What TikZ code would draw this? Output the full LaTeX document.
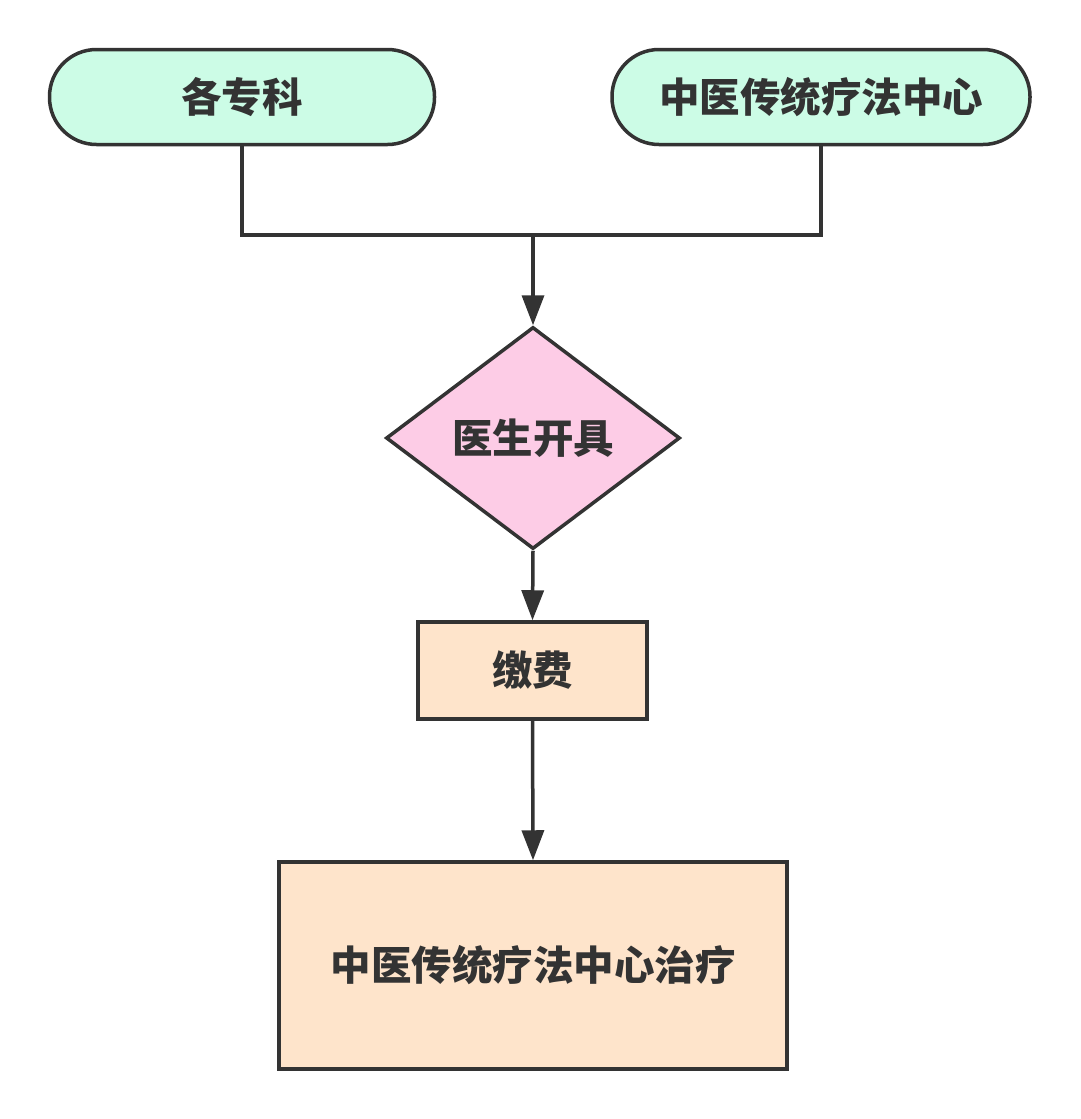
\documentclass[tikz,border=0pt]{standalone}
\usepackage{fontspec}
\newfontfamily\cjk{Noto Sans CJK SC}
\usetikzlibrary{arrows.meta,positioning,shapes.geometric}
\definecolor{linegray}{HTML}{333333}
\definecolor{startgreen}{HTML}{CCFCE6}
\definecolor{decpink}{HTML}{FDCCE6}
\definecolor{procpeach}{HTML}{FEE4CB}

\begin{document}
\begin{tikzpicture}[x=1pt,y=-1pt,
    line width=3.5pt, draw=linegray,
    every node/.style={font=\cjk\bfseries\fontsize{40.5}{45}\selectfont, text=linegray, draw=linegray, line width=3.5pt},
    startbox/.style={rectangle, rounded corners=47pt, fill=startgreen, minimum height=95pt},
    decision/.style={diamond, fill=decpink, minimum width=294pt, minimum height=222pt, inner sep=0pt},
    procbox/.style={rectangle, fill=procpeach},
    flow/.style={-{Triangle[width=22pt,length=30pt]}, line width=3.5pt, draw=linegray}]
  \useasboundingbox (0,0) rectangle (1080,1119);
  % start terminals
  \node[startbox, minimum width=385pt] (dept) at (242,97) {各专科};
  \node[startbox, minimum width=418pt] (tcm) at (821,97) {中医传统疗法中心};
  % decision and process
  \node[decision] (doctor) at (533,438) {医生开具};
  \node[procbox, minimum width=229pt, minimum height=97pt] (pay) at (532.5,670.5) {缴费};
  \node[procbox, minimum width=508pt, minimum height=207pt] (treat) at (533,965.5) {中医传统疗法中心治疗};
  \coordinate (join) at (533,235);
  % connectors
  \draw[line width=3.5pt, draw=linegray] (dept.south) |- (join) -| (tcm.south);
  \draw[flow] (join) -- (doctor.north);
  \draw[flow] (doctor.south) -- (pay.north);
  \draw[flow] (pay.south) -- (treat.north);
\end{tikzpicture}
\end{document}
